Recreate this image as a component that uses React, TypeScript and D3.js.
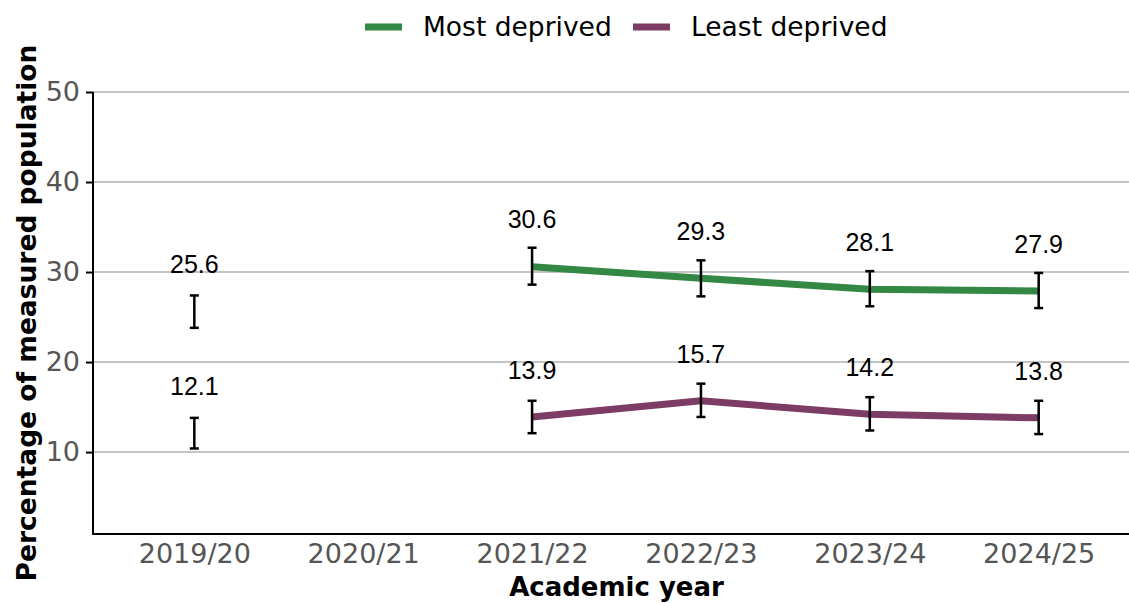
import { useEffect, useRef } from "react";
import * as d3 from "d3";

const years = ["2019/20", "2020/21", "2021/22", "2022/23", "2023/24", "2024/25"];

const mostValues: (number | null)[] = [25.6, null, 30.6, 29.3, 28.1, 27.9];
const mostLower: (number | null)[] = [23.8, null, 28.6, 27.3, 26.2, 26.0];
const mostUpper: (number | null)[] = [27.4, null, 32.7, 31.3, 30.1, 29.9];

const leastValues: (number | null)[] = [12.1, null, 13.9, 15.7, 14.2, 13.8];
const leastLower: (number | null)[] = [10.4, null, 12.1, 13.9, 12.4, 12.0];
const leastUpper: (number | null)[] = [13.8, null, 15.7, 17.6, 16.1, 15.7];

const yTicks = [10, 20, 30, 40, 50];

const series = [
  { name: "Most deprived", color: "#338843", values: mostValues, lower: mostLower, upper: mostUpper },
  { name: "Least deprived", color: "#7d3c64", values: leastValues, lower: leastLower, upper: leastUpper },
];

export default function App() {
  const svgRef = useRef<SVGSVGElement | null>(null);

  useEffect(() => {
    if (!svgRef.current) return;
    const width = 1129;
    const left = 93;
    const top = 92;
    const bottom = 534;
    const sans = "'DejaVu Sans', Verdana, sans-serif";

    const svg = d3.select(svgRef.current);
    svg.selectAll("*").remove();

    const x = d3.scalePoint<string>().domain(years).range([left, 1140]).padding(0.6);
    const y = d3.scaleLinear().domain([0.9, 50]).range([bottom, top]);

    // gridlines
    svg
      .append("g")
      .selectAll("line")
      .data(yTicks)
      .enter()
      .append("line")
      .attr("x1", left)
      .attr("x2", width)
      .attr("y1", (d) => y(d))
      .attr("y2", (d) => y(d))
      .attr("stroke", "#c4c4c4")
      .attr("stroke-width", 2);

    // y axis
    const yAxis = svg
      .append("g")
      .attr("transform", `translate(${left},0)`)
      .call(d3.axisLeft(y).tickValues(yTicks).tickSize(7).tickPadding(6));
    yAxis.select(".domain").remove();
    yAxis.selectAll(".tick line").attr("stroke", "#000").attr("stroke-width", 2);
    yAxis
      .selectAll(".tick text")
      .attr("fill", "#555")
      .style("font-family", sans)
      .style("font-size", "27px");

    svg
      .append("line")
      .attr("x1", left)
      .attr("x2", left)
      .attr("y1", top)
      .attr("y2", bottom + 1)
      .attr("stroke", "#000")
      .attr("stroke-width", 2);

    // x axis
    const xAxis = svg
      .append("g")
      .attr("transform", `translate(0,${bottom})`)
      .call(d3.axisBottom(x).tickSize(0).tickPadding(10));
    xAxis.select(".domain").remove();
    xAxis
      .selectAll(".tick text")
      .attr("fill", "#555")
      .style("font-family", sans)
      .style("font-size", "27px");

    svg
      .append("line")
      .attr("x1", left - 1)
      .attr("x2", width)
      .attr("y1", bottom)
      .attr("y2", bottom)
      .attr("stroke", "#000")
      .attr("stroke-width", 2);

    // axis titles
    svg
      .append("text")
      .attr("x", (left + 1140) / 2)
      .attr("y", 596)
      .attr("text-anchor", "middle")
      .style("font-family", sans)
      .style("font-size", "26px")
      .style("font-weight", "bold")
      .text("Academic year");

    svg
      .append("text")
      .attr("transform", `translate(36,${(top + bottom) / 2}) rotate(-90)`)
      .attr("text-anchor", "middle")
      .style("font-family", sans)
      .style("font-size", "26.5px")
      .style("font-weight", "bold")
      .text("Percentage of measured population");

    // lines, error bars, labels
    series.forEach((s) => {
      const pts = years.map((yr, i) => ({
        yr,
        v: s.values[i],
        lo: s.lower[i],
        hi: s.upper[i],
      }));

      const line = d3
        .line<(typeof pts)[number]>()
        .defined((d) => d.v !== null)
        .x((d) => x(d.yr)!)
        .y((d) => y(d.v as number));

      svg
        .append("path")
        .datum(pts)
        .attr("d", line)
        .attr("fill", "none")
        .attr("stroke", s.color)
        .attr("stroke-width", 7)
        .attr("stroke-linecap", "butt");

      const valid = pts.filter((d) => d.v !== null);
      const eb = svg.append("g").selectAll("g").data(valid).enter().append("g");
      eb.append("line")
        .attr("x1", (d) => x(d.yr)!)
        .attr("x2", (d) => x(d.yr)!)
        .attr("y1", (d) => y(d.lo as number))
        .attr("y2", (d) => y(d.hi as number))
        .attr("stroke", "#000")
        .attr("stroke-width", 2.5);
      [0, 1].forEach((k) => {
        eb.append("line")
          .attr("x1", (d) => x(d.yr)! - 4.5)
          .attr("x2", (d) => x(d.yr)! + 4.5)
          .attr("y1", (d) => y((k ? d.hi : d.lo) as number))
          .attr("y2", (d) => y((k ? d.hi : d.lo) as number))
          .attr("stroke", "#000")
          .attr("stroke-width", 2.5);
      });

      svg
        .append("g")
        .selectAll("text")
        .data(valid)
        .enter()
        .append("text")
        .attr("x", (d) => x(d.yr)!)
        .attr("y", (d) => y(d.v as number) - 47)
        .attr("dy", "0.35em")
        .attr("text-anchor", "middle")
        .style("font-family", "'Liberation Sans', Arial, sans-serif")
        .style("font-size", "25px")
        .attr("fill", "#000")
        .text((d) => (d.v as number).toFixed(1));
    });

    // legend
    const legendPos = [365, 633];
    series.forEach((s, i) => {
      const g = svg.append("g").attr("transform", `translate(${legendPos[i]},27)`);
      g.append("line")
        .attr("x1", 0)
        .attr("x2", 37)
        .attr("stroke", s.color)
        .attr("stroke-width", 7);
      g.append("text")
        .attr("x", 58)
        .attr("dy", "0.35em")
        .style("font-family", sans)
        .style("font-size", "26.5px")
        .attr("fill", "#000")
        .text(s.name);
    });
  }, []);

  return (
    <svg
      ref={svgRef}
      width={1129}
      height={603}
      style={{ position: "absolute", left: 0, top: 0, background: "#fff" }}
    />
  );
}
